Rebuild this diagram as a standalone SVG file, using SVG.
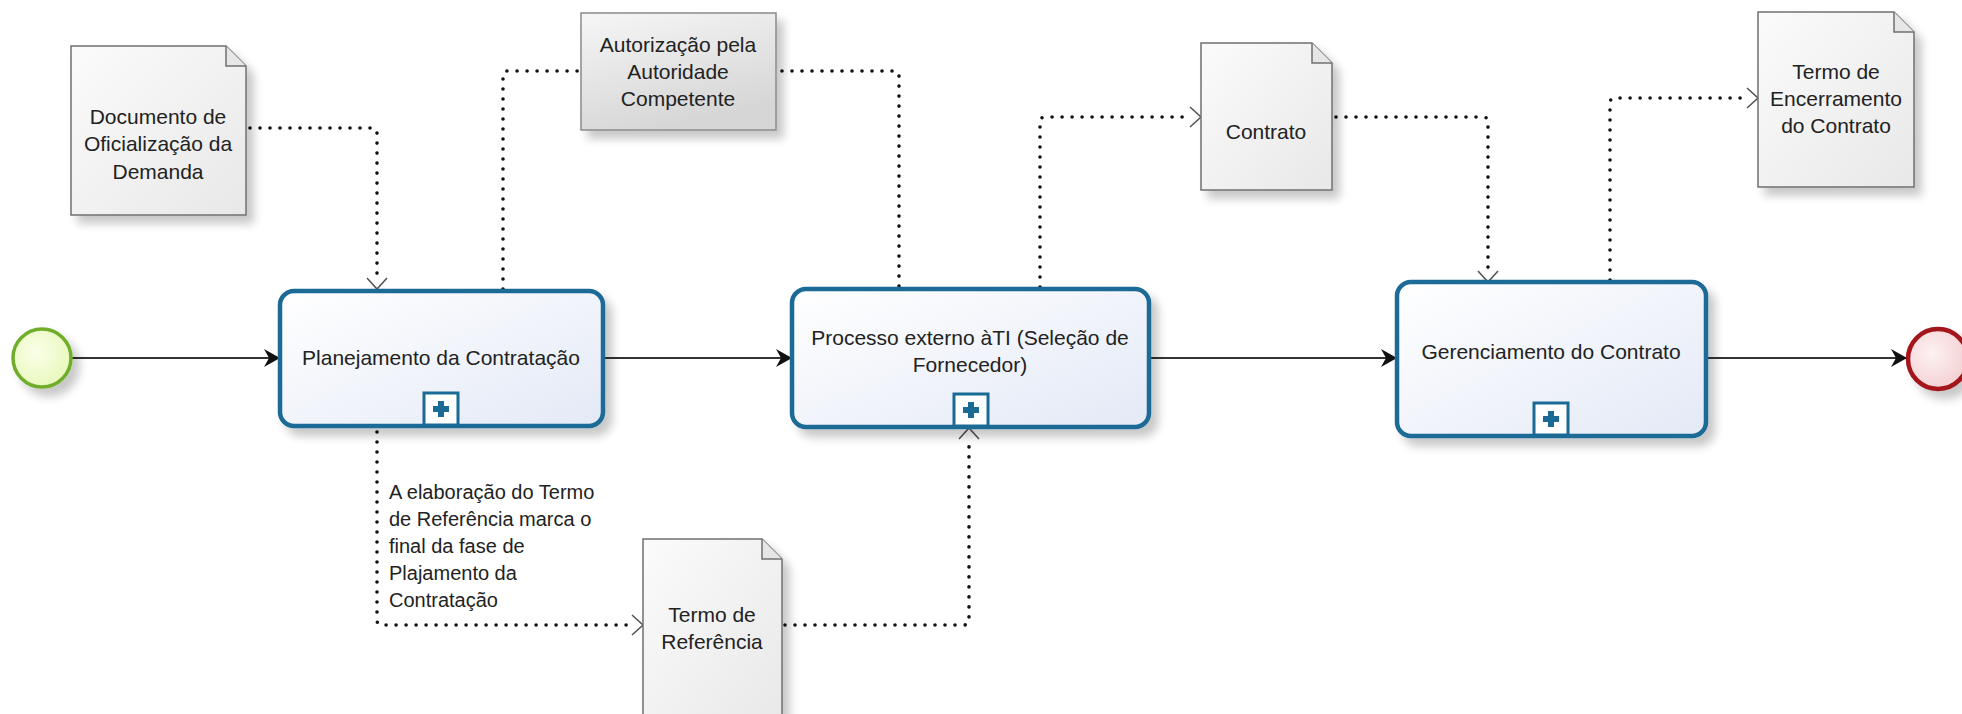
<svg xmlns="http://www.w3.org/2000/svg" width="1962" height="714" viewBox="0 0 1962 714">
<style>
  text { font-family: "Liberation Sans", Arial, sans-serif; font-size: 21px; fill: #222; }
  .c { text-anchor: middle; }
  .task { fill: url(#taskGrad); stroke: #1b6a96; stroke-width: 4.5; filter: url(#shadow); }
  .plusbox { fill: #ffffff; stroke: #1b6a96; stroke-width: 3; }
  .plus { fill: #1b6a96; }
  .doc { fill: url(#docGrad); stroke: #707070; stroke-width: 1.5; filter: url(#shadow); }
  .fold { fill: #e6e6e6; stroke: #707070; stroke-width: 1.5; }
  .flow { fill: none; stroke: #333; stroke-width: 2; }
  .assoc { fill: none; stroke: #111; stroke-width: 3.6; stroke-dasharray: 0 10; stroke-linecap: round; }
  .ann { font-size: 20px; }
</style>
<defs>
  <linearGradient id="taskGrad" x1="0" y1="0" x2="1" y2="1">
    <stop offset="0" stop-color="#ffffff"/>
    <stop offset="1" stop-color="#e3e9f6"/>
  </linearGradient>
  <linearGradient id="docGrad" x1="0" y1="0" x2="1" y2="1">
    <stop offset="0" stop-color="#fbfbfb"/>
    <stop offset="1" stop-color="#e8e8e8"/>
  </linearGradient>
  <linearGradient id="authGrad" x1="0" y1="0" x2="0.4" y2="1">
    <stop offset="0" stop-color="#f6f6f6"/>
    <stop offset="1" stop-color="#d6d6d6"/>
  </linearGradient>
  <radialGradient id="startGrad" cx="0.4" cy="0.4" r="0.7">
    <stop offset="0" stop-color="#fbffe8"/>
    <stop offset="1" stop-color="#e6f7b8"/>
  </radialGradient>
  <radialGradient id="endGrad" cx="0.4" cy="0.4" r="0.7">
    <stop offset="0" stop-color="#fdf2f2"/>
    <stop offset="1" stop-color="#f3cccf"/>
  </radialGradient>
  <filter id="shadow" x="-20%" y="-20%" width="150%" height="150%">
    <feGaussianBlur in="SourceAlpha" stdDeviation="5"/>
    <feOffset dx="7" dy="8" result="b"/>
    <feComponentTransfer><feFuncA type="linear" slope="0.22"/></feComponentTransfer>
    <feMerge><feMergeNode/><feMergeNode in="SourceGraphic"/></feMerge>
  </filter>
  <marker id="arrow" markerUnits="userSpaceOnUse" markerWidth="18" markerHeight="20" refX="16" refY="10" orient="auto">
    <path d="M0,1 L16,10 L0,19 L5,10 z" fill="#111"/>
  </marker>
  <marker id="open" markerUnits="userSpaceOnUse" markerWidth="14" markerHeight="24" refX="12" refY="12" orient="auto">
    <path d="M1,2 L12,12 L1,22" fill="none" stroke="#555" stroke-width="1.6"/>
  </marker>
</defs>

<g id="connectors">
  <path class="flow" d="M71,358 H280" marker-end="url(#arrow)"/>
  <path class="flow" d="M603,358 H792" marker-end="url(#arrow)"/>
  <path class="flow" d="M1149,358 H1397" marker-end="url(#arrow)"/>
  <path class="flow" d="M1707,358 H1907" marker-end="url(#arrow)"/>
  <path class="assoc" d="M250,128 H372 Q377,128 377,133 V282"/>
  <path fill="none" d="M377,270 V289" marker-end="url(#open)"/>
  <path class="assoc" d="M503,289 V76 Q503,71 508,71 H579"/>
  <path class="assoc" d="M782,71 H894 Q899,71 899,76 V287"/>
  <path class="assoc" d="M1040,287 V122 Q1040,117 1045,117 H1192"/>
  <path fill="none" d="M1185,117 H1201" marker-end="url(#open)"/>
  <path class="assoc" d="M1336,117 H1483 Q1488,117 1488,122 V272"/>
  <path fill="none" d="M1488,262 V282" marker-end="url(#open)"/>
  <path class="assoc" d="M1610,280 V103 Q1610,98 1615,98 H1748"/>
  <path fill="none" d="M1740,98 H1758" marker-end="url(#open)"/>
  <path class="assoc" d="M377,432 V620 Q377,625 382,625 H634"/>
  <path fill="none" d="M625,625 H643" marker-end="url(#open)"/>
  <path class="assoc" d="M785,625 H964 Q969,625 969,620 V438"/>
  <path fill="none" d="M969,448 V428" marker-end="url(#open)"/>
</g>

<g id="start">
  <circle cx="42" cy="358" r="29" fill="url(#startGrad)" stroke="#6fae2c" stroke-width="3.5" filter="url(#shadow)"/>
</g>

<g id="task-planejamento">
  <rect class="task" x="280" y="291" width="323" height="135" rx="14"/>
  <text class="c" x="441" y="365">Planejamento da Contratação</text>
  <rect class="plusbox" x="424" y="393" width="34" height="32"/>
  <rect class="plus" x="433" y="406" width="16" height="6"/>
  <rect class="plus" x="438" y="401" width="6" height="16"/>
</g>

<g id="task-processo">
  <rect class="task" x="792" y="289" width="357" height="138" rx="14"/>
  <text class="c" x="970" y="345">Processo externo àTI (Seleção de</text>
  <text class="c" x="970" y="372">Fornecedor)</text>
  <rect class="plusbox" x="954" y="394" width="34" height="32"/>
  <rect class="plus" x="963" y="407" width="16" height="6"/>
  <rect class="plus" x="968" y="402" width="6" height="16"/>
</g>

<g id="task-gerenciamento">
  <rect class="task" x="1397" y="282" width="309" height="154" rx="14"/>
  <text class="c" x="1551" y="359">Gerenciamento do Contrato</text>
  <rect class="plusbox" x="1534" y="403" width="34" height="32"/>
  <rect class="plus" x="1543" y="416" width="16" height="6"/>
  <rect class="plus" x="1548" y="411" width="6" height="16"/>
</g>

<g id="end">
  <circle cx="1938" cy="359" r="30" fill="url(#endGrad)" stroke="#a3141c" stroke-width="4.5" filter="url(#shadow)"/>
</g>

<g id="doc-documento">
  <path class="doc" d="M71,46 H226 L246,66 V215 H71 Z"/>
  <path class="fold" d="M226,46 V66 H246"/>
  <text class="c" x="158" y="124">Documento de</text>
  <text class="c" x="158" y="151">Oficialização da</text>
  <text class="c" x="158" y="179">Demanda</text>
</g>

<g id="doc-autorizacao">
  <rect x="581" y="13" width="195" height="117" fill="url(#authGrad)" stroke="#8a8a8a" stroke-width="1.5" filter="url(#shadow)"/>
  <text class="c" x="678" y="52">Autorização pela</text>
  <text class="c" x="678" y="79">Autoridade</text>
  <text class="c" x="678" y="106">Competente</text>
</g>

<g id="doc-contrato">
  <path class="doc" d="M1201,43 H1312 L1332,63 V190 H1201 Z"/>
  <path class="fold" d="M1312,43 V63 H1332"/>
  <text class="c" x="1266" y="139">Contrato</text>
</g>

<g id="doc-encerramento">
  <path class="doc" d="M1758,12 H1894 L1914,32 V187 H1758 Z"/>
  <path class="fold" d="M1894,12 V32 H1914"/>
  <text class="c" x="1836" y="79">Termo de</text>
  <text class="c" x="1836" y="106">Encerramento</text>
  <text class="c" x="1836" y="133">do Contrato</text>
</g>

<g id="doc-referencia">
  <path class="doc" d="M643,539 H762 L782,559 V730 H643 Z"/>
  <path class="fold" d="M762,539 V559 H782"/>
  <text class="c" x="712" y="622">Termo de</text>
  <text class="c" x="712" y="649">Referência</text>
</g>

<g id="annotation">
  <text class="ann" x="389" y="499">A elaboração do Termo</text>
  <text class="ann" x="389" y="526">de Referência marca o</text>
  <text class="ann" x="389" y="553">final da fase de</text>
  <text class="ann" x="389" y="580">Plajamento da</text>
  <text class="ann" x="389" y="607">Contratação</text>
</g>
</svg>
